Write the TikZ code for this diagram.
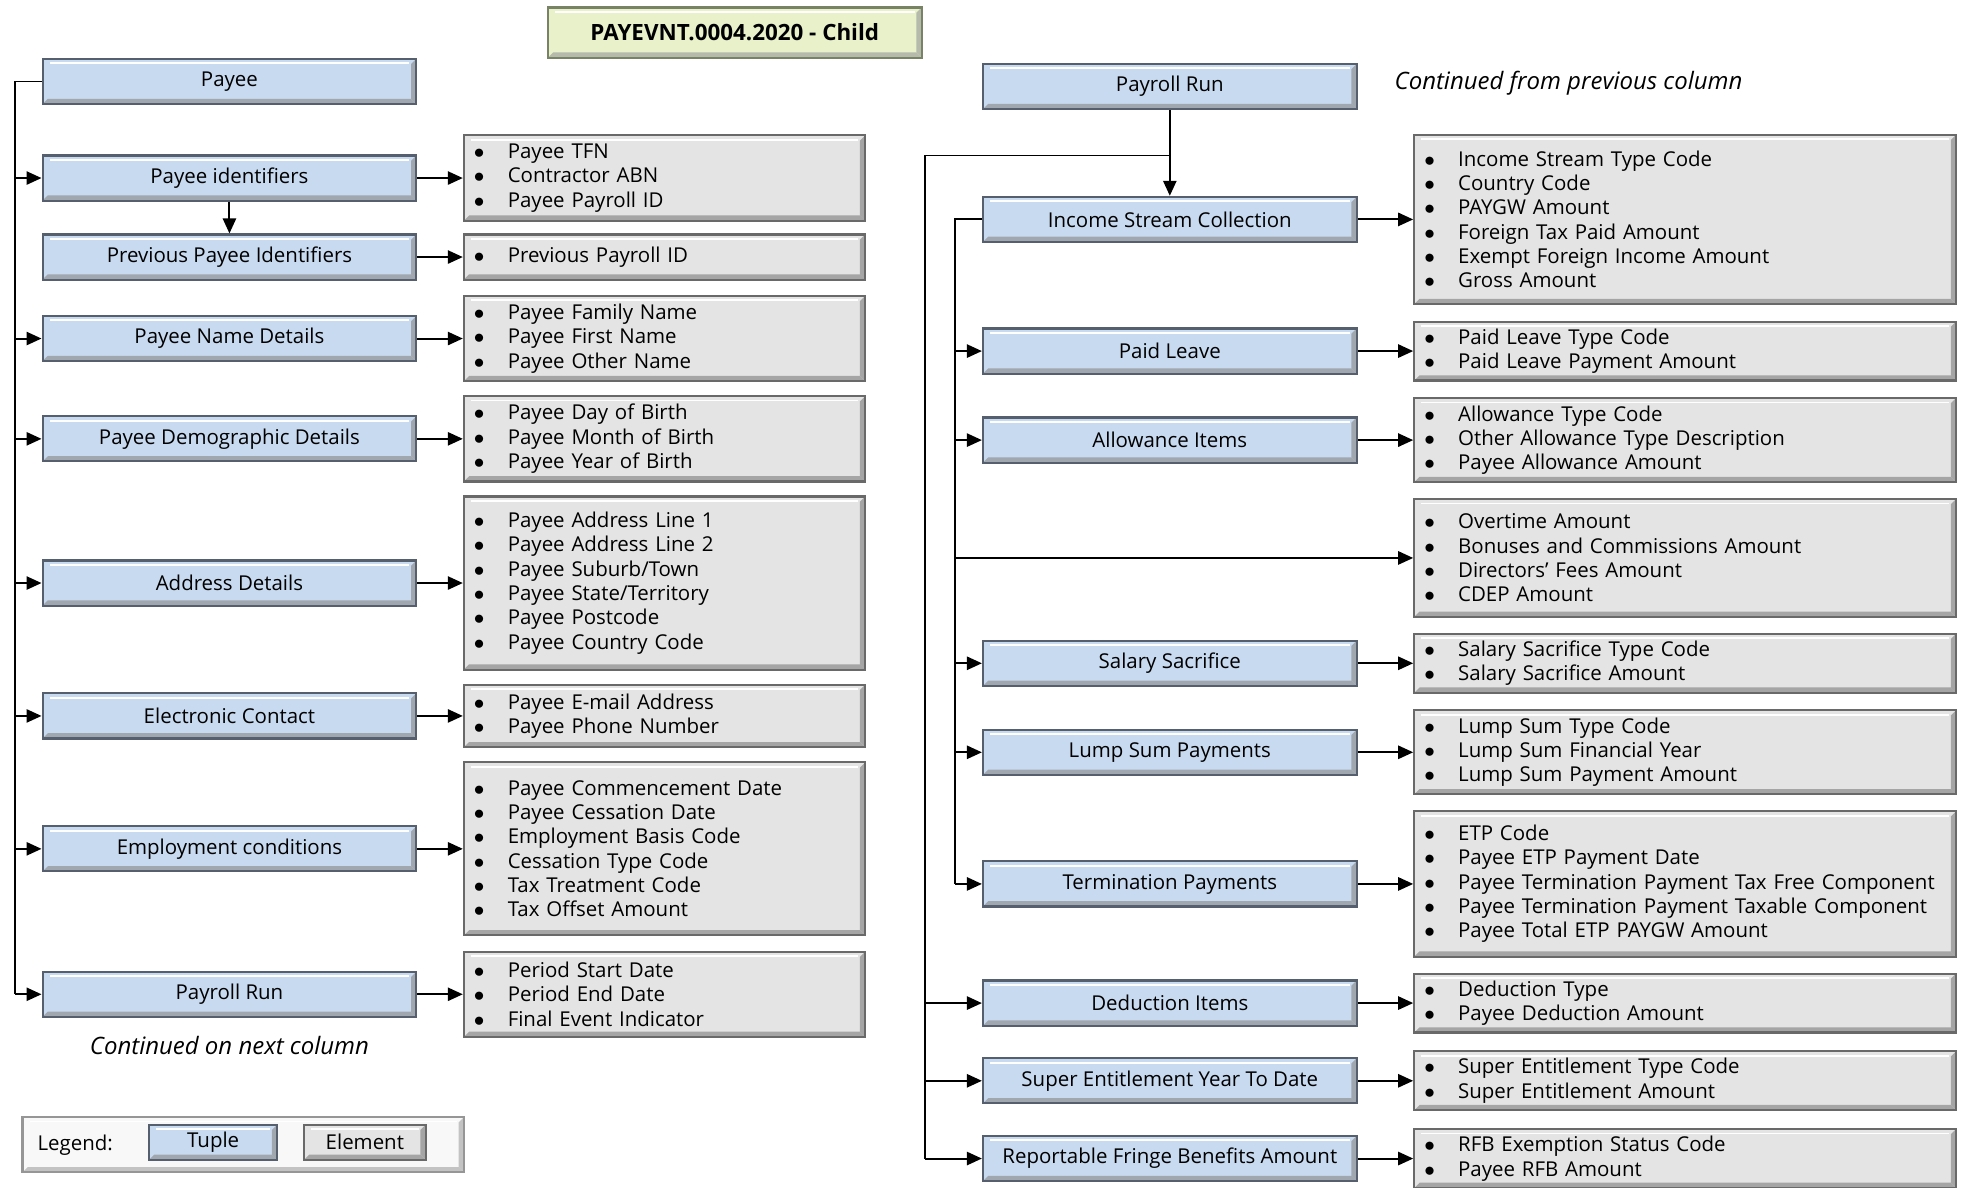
\documentclass[tikz,border=0pt]{standalone}
\usepackage{fontspec}
\setmainfont{Open Sans}
\usepackage{tikz}
\usetikzlibrary{arrows.meta, calc}

\definecolor{tuplefill}{RGB}{200,218,240}
\definecolor{tupleedge}{RGB}{85,95,110}
\definecolor{elemfill}{RGB}{228,228,228}
\definecolor{elemedge}{RGB}{105,105,105}
\definecolor{titlefill}{RGB}{232,241,202}
\definecolor{titleedge}{RGB}{120,130,100}
\definecolor{legfill}{RGB}{248,248,248}

\newcommand{\itm}[1]{\makebox[0.675cm][l]{$\bullet$}#1}

\tikzset{bevel/.style={path picture={
  \fill[#1] (path picture bounding box.north east) -- (path picture bounding box.south east)
    -- ([shift={(-3pt,3pt)}]path picture bounding box.south east)
    -- ([shift={(-3pt,-3pt)}]path picture bounding box.north east) -- cycle;
  \fill[#1] (path picture bounding box.south west) -- (path picture bounding box.south east)
    -- ([shift={(-3pt,3pt)}]path picture bounding box.south east)
    -- ([shift={(3pt,3pt)}]path picture bounding box.south west) -- cycle;
  \draw[white, line width=1pt] ([shift={(4pt,-2.5pt)}]path picture bounding box.north west)
    -- ([shift={(-4pt,-2.5pt)}]path picture bounding box.north east);
}}}
\tikzset{tuple/.style={rectangle, draw=tupleedge, fill=tuplefill, line width=1.2pt,
  minimum width=7.45cm, minimum height=0.9cm, inner sep=0pt, bevel=tupleedge!55}}
\tikzset{elem/.style={rectangle, draw=elemedge, fill=elemfill, line width=1.2pt,
  align=left, inner xsep=0.2cm, inner ysep=0pt, bevel=elemedge!60}}
\tikzset{elemleft/.style={elem, text width=7.6cm}}
\tikzset{elemright/.style={elem, text width=10.4cm}}
\tikzset{conn/.style={line width=1.1pt}}
\tikzset{arr/.style={conn, -{Triangle[length=8.5pt, width=7.5pt]}}}
\tikzset{note/.style={font=\fontsize{13.6}{16}\selectfont\itshape}}

\begin{document}
\begin{tikzpicture}[x=0.025cm, y=-0.025cm,
  every node/.style={font=\fontsize{11.6}{13.8}\selectfont}]
\useasboundingbox (0,0) rectangle (1568,947);

\node[rectangle, draw=titleedge, fill=titlefill, line width=1.2pt,
minimum width=7.45cm, minimum height=1cm,
bevel=titleedge!55, font=\fontsize{12.7}{14}\selectfont\bfseries] (ttl) at (586,26) {PAYEVNT.0004.2020 - Child};

% first column: tuples
\node[tuple] (payee) at (183,65) {Payee};
\node[tuple] (ident) at (183,142) {Payee identifiers};
\node[tuple] (prevident) at (183,205) {Previous Payee Identifiers};
\node[tuple] (name) at (183,270) {Payee Name Details};
\node[tuple] (demog) at (183,350) {Payee Demographic Details};
\node[tuple] (addr) at (183,465) {Address Details};
\node[tuple] (econtact) at (183,571) {Electronic Contact};
\node[tuple] (employ) at (183,677) {Employment conditions};
\node[tuple] (payrun) at (183,793) {Payroll Run};
\node[note] (contnext) at (183,834) {Continued on next column};

% first column: elements
\node[elemleft, minimum height=1.7cm] (identel) at (530,142)
{\itm{Payee TFN}\\\itm{Contractor ABN}\\\itm{Payee Payroll ID}};
\node[elemleft, minimum height=0.9cm] (prevel) at (530,205)
{\itm{Previous Payroll ID}};
\node[elemleft, minimum height=1.7cm] (nameel) at (530,270)
{\itm{Payee Family Name}\\\itm{Payee First Name}\\\itm{Payee Other Name}};
\node[elemleft, minimum height=1.7cm] (demogel) at (530,350)
{\itm{Payee Day of Birth}\\\itm{Payee Month of Birth}\\\itm{Payee Year of Birth}};
\node[elemleft, minimum height=3.45cm] (addrel) at (530,465)
{\itm{Payee Address Line 1}\\\itm{Payee Address Line 2}\\\itm{Payee Suburb/Town}\\
\itm{Payee State/Territory}\\\itm{Payee Postcode}\\\itm{Payee Country Code}};
\node[elemleft, minimum height=1.25cm] (econel) at (530,571)
{\itm{Payee E-mail Address}\\\itm{Payee Phone Number}};
\node[elemleft, minimum height=3.45cm] (employel) at (530,677)
{\itm{Payee Commencement Date}\\\itm{Payee Cessation Date}\\\itm{Employment Basis Code}\\
\itm{Cessation Type Code}\\\itm{Tax Treatment Code}\\\itm{Tax Offset Amount}};
\node[elemleft, minimum height=1.7cm] (payrunel) at (530,793)
{\itm{Period Start Date}\\\itm{Period End Date}\\\itm{Final Event Indicator}};

% legend
\node[rectangle, draw=elemedge!70, fill=legfill, line width=1.2pt,
minimum width=8.8cm, minimum height=1.1cm, bevel=elemedge!40] (legend) at (194,913) {};
\node[] (leglabel) at (60,913) {Legend:};
\node[tuple, minimum width=2.55cm, minimum height=0.7cm] (legtuple) at (170,911) {Tuple};
\node[elem, align=center, minimum width=2.425cm, minimum height=0.7cm] (legelem) at (291,911) {Element};

% second column: tuples
\node[tuple] (payrun2) at (933,69) {Payroll Run};
\node[note] (contprev) at (1251,66) {Continued from previous column};
\node[tuple] (isc) at (933,175) {Income Stream Collection};
\node[tuple] (leave) at (933,280) {Paid Leave};
\node[tuple] (allow) at (933,351) {Allowance Items};
\node[tuple] (salsac) at (933,529) {Salary Sacrifice};
\node[tuple] (lumpsum) at (933,600) {Lump Sum Payments};
\node[tuple] (etp) at (933,705) {Termination Payments};
\node[tuple] (deduct) at (933,800) {Deduction Items};
\node[tuple] (super) at (933,862) {Super Entitlement Year To Date};
\node[tuple] (rfb) at (933,924) {Reportable Fringe Benefits Amount};

% second column: elements
\node[elemright, minimum height=3.375cm] (iscel) at (1344,175)
{\itm{Income Stream Type Code}\\\itm{Country Code}\\\itm{PAYGW Amount}\\
\itm{Foreign Tax Paid Amount}\\\itm{Exempt Foreign Income Amount}\\\itm{Gross Amount}};
\node[elemright, minimum height=1.175cm] (leaveel) at (1344,280)
{\itm{Paid Leave Type Code}\\\itm{Paid Leave Payment Amount}};
\node[elemright, minimum height=1.675cm] (allowel) at (1344,351)
{\itm{Allowance Type Code}\\\itm{Other Allowance Type Description}\\\itm{Payee Allowance Amount}};
\node[elemright, minimum height=2.35cm] (otel) at (1344,445)
{\itm{Overtime Amount}\\\itm{Bonuses and Commissions Amount}\\\itm{Directors' Fees Amount}\\\itm{CDEP Amount}};
\node[elemright, minimum height=1.175cm] (salsacel) at (1344,529)
{\itm{Salary Sacrifice Type Code}\\\itm{Salary Sacrifice Amount}};
\node[elemright, minimum height=1.675cm] (lumpel) at (1344,600)
{\itm{Lump Sum Type Code}\\\itm{Lump Sum Financial Year}\\\itm{Lump Sum Payment Amount}};
\node[elemright, minimum height=2.9cm] (etpel) at (1344,705)
{\itm{ETP Code}\\\itm{Payee ETP Payment Date}\\\itm{Payee Termination Payment Tax Free Component}\\
\itm{Payee Termination Payment Taxable Component}\\\itm{Payee Total ETP PAYGW Amount}};
\node[elemright, minimum height=1.175cm] (deductel) at (1344,800)
{\itm{Deduction Type}\\\itm{Payee Deduction Amount}};
\node[elemright, minimum height=1.175cm] (superel) at (1344,862)
{\itm{Super Entitlement Type Code}\\\itm{Super Entitlement Amount}};
\node[elemright, minimum height=1.175cm] (rfbel) at (1344,924)
{\itm{RFB Exemption Status Code}\\\itm{Payee RFB Amount}};

% trunk lines
\coordinate (ltrunk) at (12,65);
\coordinate (rtrunk) at (738,124);
\coordinate (itrunk) at (762,175);

\draw [conn] (payee.west) -- (ltrunk) -- (ltrunk |- payrun);
\foreach \t in {ident,name,demog,addr,econtact,employ,payrun}
  \draw [arr] (ltrunk |- \t) -- (\t.west);
\draw [arr] (ident) -- (prevident);

\foreach \t/\e in {ident/identel,prevident/prevel,name/nameel,demog/demogel,
  addr/addrel,econtact/econel,employ/employel,payrun/payrunel}
  \draw [arr] (\t) -- (\e);

\draw [arr] (payrun2) -- (isc);
\draw [conn] (rtrunk -| payrun2) -- (rtrunk) -- (rtrunk |- rfb);
\foreach \t in {deduct,super,rfb}
  \draw [arr] (rtrunk |- \t) -- (\t.west);

\draw [conn] (isc.west) -- (itrunk) -- (itrunk |- etp);
\foreach \t in {leave,allow,salsac,lumpsum,etp}
  \draw [arr] (itrunk |- \t) -- (\t.west);
\draw [arr] (itrunk |- otel) -- (otel.west);

\foreach \t/\e in {isc/iscel,leave/leaveel,allow/allowel,salsac/salsacel,lumpsum/lumpel,
  etp/etpel,deduct/deductel,super/superel,rfb/rfbel}
  \draw [arr] (\t) -- (\e);

\end{tikzpicture}
\end{document}
